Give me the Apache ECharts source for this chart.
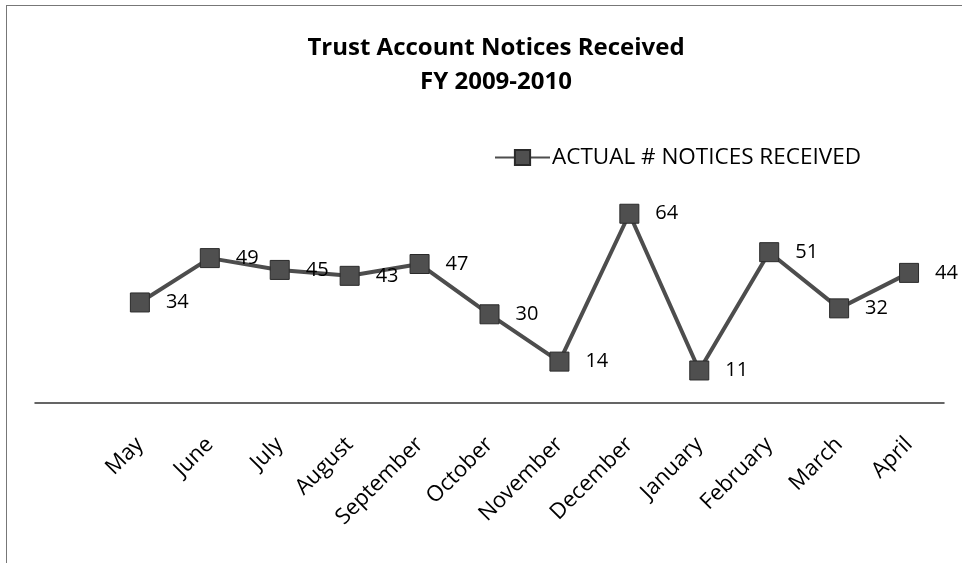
<!DOCTYPE html>
<html>
<head>
<meta charset="utf-8">
<script src="https://cdn.jsdelivr.net/npm/echarts@6/dist/echarts.min.js"></script>
<style>
    body { margin: 0; background: #fff; }
    #chart { width: 962px; height: 563px; }
    #frame {
        position: absolute; left: 6px; top: 5px; width: 956px; height: 558px;
        border-left: 1px solid #777; border-top: 1px solid #777; pointer-events: none;
    }
</style>
</head>
<body>
<div id="chart"></div>
<div id="frame"></div>
<script>
// leading blank category, like the original sheet
const months = ['', 'May', 'June', 'July', 'August', 'September', 'October', 'November', 'December', 'January', 'February', 'March', 'April'];
const notices = [null, 34, 49, 45, 43, 47, 30, 14, 64, 11, 51, 32, 44];
const seriesName = 'ACTUAL # NOTICES RECEIVED';

const font = '"Open Sans", sans-serif';
const myChart = echarts.init(document.getElementById('chart'));
const option = {
    backgroundColor: '#fff',
    animation: false,
    title: {
        text: 'Trust Account Notices Received\nFY 2009-2010',
        left: 491,
        textAlign: 'center',
        top: 26,
        textStyle: { fontFamily: font, fontWeight: 'bold', fontSize: 24, lineHeight: 34, color: '#000' }
    },
    legend: {
        data: [seriesName],
        left: 489,
        top: 141,
        itemWidth: 55,
        itemHeight: 19,
        itemGap: 0,
        textStyle: { fontFamily: font, fontSize: 22.5, color: '#000', padding: [0, 0, 0, -3] }
    },
    grid: { left: 35, right: 18, top: 196, bottom: 160 },
    xAxis: {
        type: 'category',
        data: months,
        boundaryGap: true,
        axisLine: { lineStyle: { color: '#333', width: 1.5 } },
        axisTick: { show: false },
        axisLabel: { rotate: 45, interval: 0, margin: 38, fontFamily: font, fontSize: 22, color: '#000' }
    },
    yAxis: {
        type: 'value',
        min: 0,
        max: 70,
        show: false,
        splitLine: { show: false }
    },
    series: [{
        name: seriesName,
        type: 'line',
        data: notices,
        symbol: 'rect',
        symbolSize: 19,
        lineStyle: { color: '#4d4d4d', width: 4 },
        itemStyle: { color: '#4f4f4f', borderColor: '#2a2a2a', borderWidth: 1 },
        label: {
            show: true,
            position: 'right',
            distance: 16,
            fontFamily: font,
            fontSize: 20,
            color: '#000'
        }
    }]
};
myChart.setOption(option);
</script>
</body>
</html>
